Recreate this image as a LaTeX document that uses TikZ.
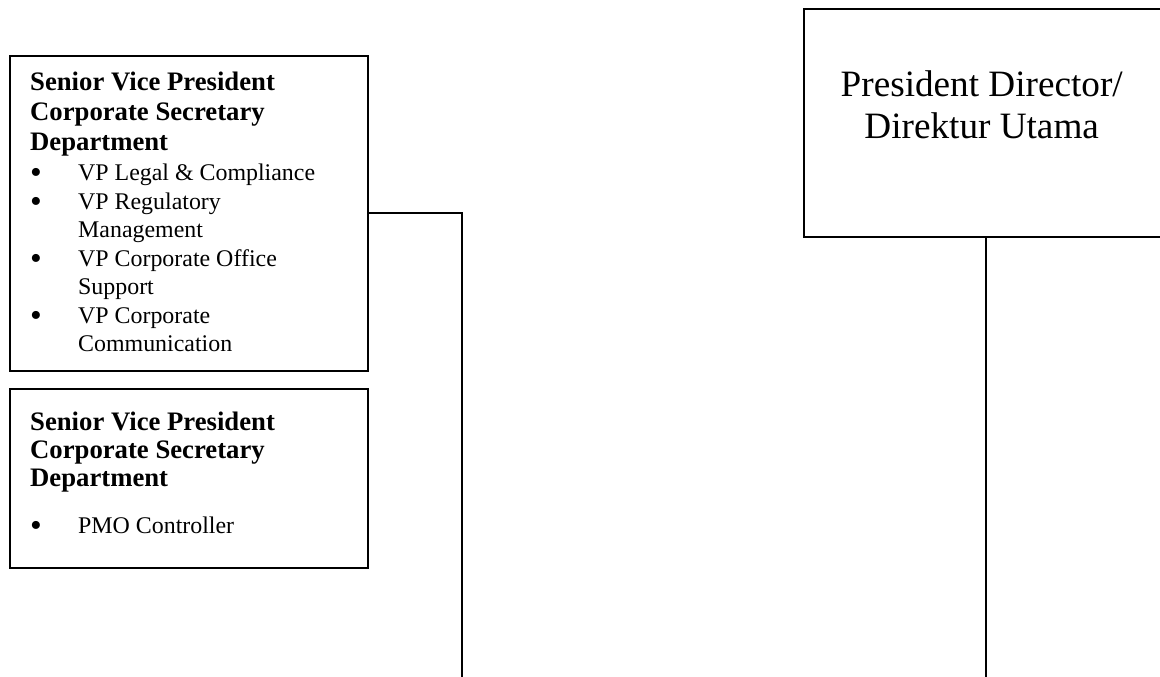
\documentclass[tikz,border=0pt]{standalone}
\usepackage{fontspec}
\setmainfont{Liberation Serif}
\usepackage{array}
\usepackage{graphicx}
\newcommand{\bigbul}{\smash{\raisebox{-3pt}{\scalebox{1.4}{\textbullet}}}}
\newcommand{\ttl}[1]{\multicolumn{2}{@{}l@{}}{\fontsize{26.7}{28.6}\selectfont\bfseries #1}}
\begin{document}
\begin{tikzpicture}[x=1pt,y=-1pt,
  box/.style={draw=black, line width=1.6pt, rectangle, inner sep=0pt, anchor=north west},
  conn/.style={draw=black, line width=1.6pt},
  listtext/.style={inner sep=0pt, anchor=base west, font=\fontsize{23.9}{28.5}\selectfont},
  prestext/.style={inner sep=0pt, anchor=base, align=center, font=\fontsize{37.2}{42.3}\selectfont}]
\useasboundingbox (0,0) rectangle (1160,677);
% boxes
\node[box, minimum width=358pt, minimum height=315pt] (b1) at (9,55) {};
\node[box, minimum width=358pt, minimum height=179pt] (b2) at (9,388) {};
\node[box, minimum width=360pt, minimum height=228pt] (pres) at (803,8) {};
% texts
\node[listtext] (t1) at (30,90.7) {%
\begin{tabular}[t]{@{}p{48pt}@{}l@{}}
\ttl{Senior Vice President}\\[1.6pt]
\ttl{Corporate Secretary}\\[1.6pt]
\ttl{Department}\\[1.6pt]
\bigbul & VP Legal \& Compliance\\
\bigbul & VP Regulatory\\
 & Management\\
\bigbul & VP Corporate Office\\
 & Support\\
\bigbul & VP Corporate\\
 & Communication
\end{tabular}};
\node[listtext] (t2) at (30,430.7) {%
\begin{tabular}[t]{@{}p{48pt}@{}l@{}}
\ttl{Senior Vice President}\\[-0.5pt]
\ttl{Corporate Secretary}\\[-0.5pt]
\ttl{Department}\\[17.8pt]
\bigbul & PMO Controller
\end{tabular}};
\node[prestext] (t3) at (981.7,139) {President Director/\\Direktur Utama};
% connectors
\coordinate (jL) at (461.7,213);
\coordinate (endL) at (461.7,680);
\coordinate (endR) at (985.7,680);
\draw[conn] (b1.east |- jL) -- (jL) -- (endL);
\draw[conn] (pres.south -| endR) -- (endR);
\end{tikzpicture}
\end{document}
